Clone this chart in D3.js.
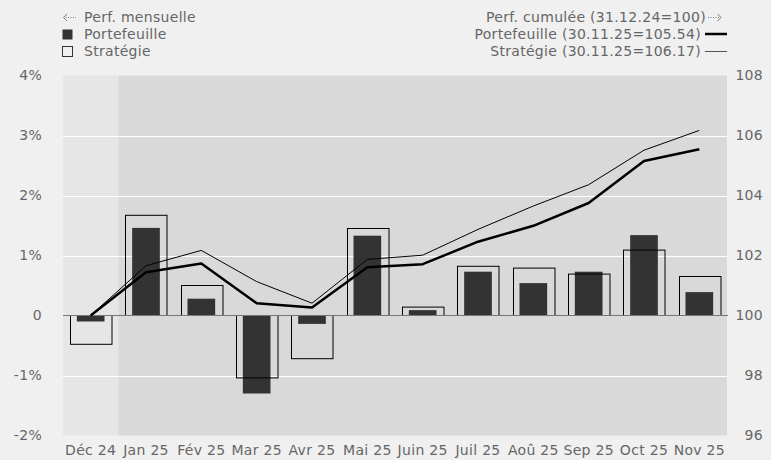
<!DOCTYPE html>
<html>
<head>
<meta charset="utf-8">
<script src="https://cdn.jsdelivr.net/npm/d3@7"></script>
<style>
  html, body { margin: 0; padding: 0; background: #f0f0f0; }
  svg { display: block; }
  text { font-family: "DejaVu Sans", Verdana, sans-serif; font-size: 14px; fill: #666; letter-spacing: 0.3px; }
</style>
</head>
<body>
<svg id="chart" width="771" height="460"></svg>
<script>
// Months shown on the x axis
const months = ["Déc 24", "Jan 25", "Fév 25", "Mar 25", "Avr 25", "Mai 25", "Juin 25",
                "Juil 25", "Aoû 25", "Sep 25", "Oct 25", "Nov 25"];

// Monthly performance, in percent
const monthlyPortfolio = [-0.10, 1.46, 0.28, -1.30, -0.14, 1.33, 0.09, 0.73, 0.54, 0.73, 1.34, 0.39];
const monthlyStrategy  = [-0.48, 1.67, 0.50, -1.04, -0.72, 1.45, 0.14, 0.82, 0.79, 0.69, 1.09, 0.65];

// Cumulative performance, base 100 on 31.12.24
const cumulPortfolio = [100, 101.44, 101.73, 100.41, 100.27, 101.61, 101.71, 102.46, 102.99, 103.75, 105.15, 105.54];
const cumulStrategy  = [100, 101.66, 102.17, 101.13, 100.41, 101.87, 102.01, 102.87, 103.65, 104.36, 105.51, 106.17];

// Axis ticks
const leftTicks = [-2, -1, 0, 1, 2, 3, 4];
const rightTicks = [96, 98, 100, 102, 104, 106, 108];

const svg = d3.select("#chart");
const plot = { left: 63, right: 727, top: 75.5, bottom: 435.5 };

const x = d3.scaleBand().domain(months).range([plot.left, plot.right]).padding(0);
const yLeft = d3.scaleLinear().domain([-2, 4]).range([plot.bottom, plot.top]);
const yRight = d3.scaleLinear().domain([96, 108]).range([plot.bottom, plot.top]);

// Plot background: first month lighter, the rest darker
svg.append("rect")
  .attr("x", plot.left).attr("y", plot.top)
  .attr("width", x.bandwidth()).attr("height", plot.bottom - plot.top)
  .attr("fill", "#e6e6e6");
svg.append("rect")
  .attr("x", x(months[1])).attr("y", plot.top)
  .attr("width", plot.right - x(months[1])).attr("height", plot.bottom - plot.top)
  .attr("fill", "#d9d9d9");

// Horizontal grid lines
svg.append("g")
  .selectAll("line")
  .data(leftTicks.filter(d => d !== 0 && d !== 4 && d !== -2))
  .join("line")
  .attr("x1", plot.left).attr("x2", plot.right)
  .attr("y1", d => Math.round(yLeft(d)) + 0.5).attr("y2", d => Math.round(yLeft(d)) + 0.5)
  .attr("stroke", "#ffffff").attr("stroke-width", 1);

// Left axis (monthly %)
const leftAxis = d3.axisLeft(yLeft)
  .tickValues(leftTicks)
  .tickSize(0)
  .tickPadding(0)
  .tickFormat(d => d === 0 ? "0" : d + "%");
const gl = svg.append("g").attr("transform", `translate(42,0)`).call(leftAxis);
gl.select(".domain").remove();
gl.selectAll("text").style("font-size", "14px").attr("fill", "#666");

// Right axis (cumulative index)
const rightAxis = d3.axisRight(yRight)
  .tickValues(rightTicks)
  .tickSize(0)
  .tickPadding(0)
  .tickFormat(d3.format("d"));
const gr = svg.append("g").attr("transform", `translate(763,0)`).call(rightAxis);
gr.select(".domain").remove();
gr.selectAll("text").attr("text-anchor", "end").style("font-size", "14px").attr("fill", "#666");

// Bottom axis (months)
const bottomAxis = d3.axisBottom(x).tickSize(0).tickPadding(0);
const gb = svg.append("g").attr("transform", `translate(0,${plot.bottom + 10})`).call(bottomAxis);
gb.select(".domain").remove();
gb.selectAll("text").style("font-size", "14px").attr("fill", "#666");

// Filled bars: portfolio monthly performance
const fillW = x.bandwidth() * 0.5;
svg.append("g")
  .selectAll("rect")
  .data(monthlyPortfolio)
  .join("rect")
  .attr("x", (d, i) => x(months[i]) + (x.bandwidth() - fillW) / 2)
  .attr("y", d => yLeft(Math.max(0, d)))
  .attr("width", fillW)
  .attr("height", d => Math.abs(yLeft(d) - yLeft(0)))
  .attr("fill", "#333333");

// Outline boxes: strategy monthly performance
const boxW = x.bandwidth() * 0.75;
svg.append("g")
  .selectAll("rect")
  .data(monthlyStrategy)
  .join("rect")
  .attr("x", (d, i) => Math.round(x(months[i]) + (x.bandwidth() - boxW) / 2) + 0.5)
  .attr("y", d => yLeft(Math.max(0, d)))
  .attr("width", boxW)
  .attr("height", d => Math.abs(yLeft(d) - yLeft(0)))
  .attr("fill", "none")
  .attr("stroke", "#000")
  .attr("stroke-width", 1);

// Zero line
svg.append("line")
  .attr("x1", plot.left).attr("x2", plot.right + 1)
  .attr("y1", yLeft(0)).attr("y2", yLeft(0))
  .attr("stroke", "#777").attr("stroke-width", 1);

// Cumulative lines
const line = d3.line()
  .x((d, i) => x(months[i]) + x.bandwidth() / 2)
  .y(d => yRight(d));

svg.append("path")
  .datum(cumulStrategy)
  .attr("d", line)
  .attr("fill", "none").attr("stroke", "#000").attr("stroke-width", 1);

svg.append("path")
  .datum(cumulPortfolio)
  .attr("d", line)
  .attr("fill", "none").attr("stroke", "#000").attr("stroke-width", 2.5)
  .attr("stroke-linejoin", "round");

// Small dotted arrow used in the legend headers
function dottedArrow(g, x0, x1, y, dir) {
  const tip = dir < 0 ? x0 : x1;
  g.append("line")
    .attr("x1", x0 + (dir < 0 ? 2 : 0)).attr("x2", x1 - (dir > 0 ? 2 : 0))
    .attr("y1", y).attr("y2", y)
    .attr("stroke", "#777").attr("stroke-width", 1).attr("stroke-dasharray", "1,1.5");
  g.append("path")
    .attr("d", `M${tip - dir * 3.5},${y - 3.5} L${tip},${y} L${tip - dir * 3.5},${y + 3.5}`)
    .attr("fill", "none").attr("stroke", "#777").attr("stroke-width", 1);
}

// Legend, left: monthly performance
const legL = svg.append("g");
dottedArrow(legL, 63.5, 76, 17.5, -1);
legL.append("text").attr("x", 84).attr("y", 22).text("Perf. mensuelle");
legL.append("rect").attr("x", 62.5).attr("y", 29.5).attr("width", 10).attr("height", 10).attr("fill", "#333");
legL.append("text").attr("x", 84).attr("y", 39).text("Portefeuille");
legL.append("rect").attr("x", 62.5).attr("y", 46.5).attr("width", 10).attr("height", 10)
  .attr("fill", "none").attr("stroke", "#333").attr("stroke-width", 1);
legL.append("text").attr("x", 84).attr("y", 56).text("Stratégie");

// Legend, right: cumulative performance
const legR = svg.append("g");
legR.append("text").attr("x", 706).attr("y", 22).attr("text-anchor", "end").text("Perf. cumulée (31.12.24=100)");
dottedArrow(legR, 708, 721, 17.5, 1);
legR.append("text").attr("x", 701).attr("y", 39).attr("text-anchor", "end")
  .text(`Portefeuille (30.11.25=${cumulPortfolio[cumulPortfolio.length - 1].toFixed(2)})`);
legR.append("line").attr("x1", 705).attr("x2", 727).attr("y1", 34).attr("y2", 34)
  .attr("stroke", "#000").attr("stroke-width", 2.5);
legR.append("text").attr("x", 701).attr("y", 56).attr("text-anchor", "end")
  .text(`Stratégie (30.11.25=${cumulStrategy[cumulStrategy.length - 1].toFixed(2)})`);
legR.append("line").attr("x1", 705).attr("x2", 727).attr("y1", 51.5).attr("y2", 51.5)
  .attr("stroke", "#555").attr("stroke-width", 1);
</script>
</body>
</html>
